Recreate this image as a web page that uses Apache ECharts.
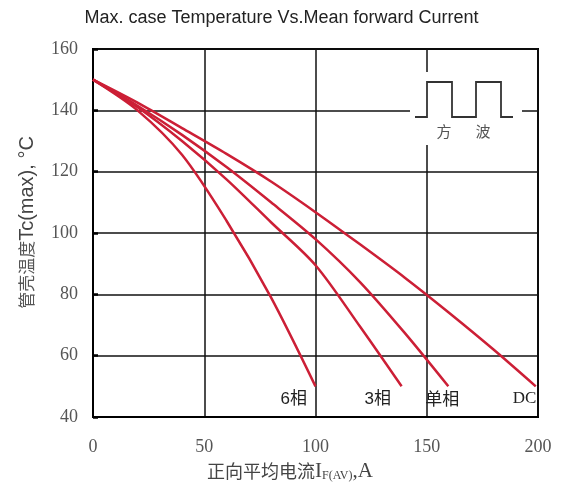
<!DOCTYPE html>
<html>
<head>
<meta charset="utf-8">
<script src="https://cdn.jsdelivr.net/npm/echarts@6/dist/echarts.min.js"></script>
<style>html,body{margin:0;padding:0;background:#fff}#c{width:563px;height:488px}</style>
</head>
<body>
<div id="c"></div>
<script>
var xTicks = [0, 50, 100, 150, 200];
var yTicks = [40, 60, 80, 100, 120, 140, 160];
var seriesNames = ['6相', '3相', '单相', 'DC'];
var curve6 = [[0,150],[20,140],[40,125.5],[60,104],[80,79],[100,50]];
var curve3 = [[0,150],[20,141],[40,130],[60,117.5],[80,103.5],[100,89.5],[120,69.5],[138.7,50]];
var curve1 = [[0,150],[20,141.5],[40,132],[60,121.5],[80,110],[100,98],[120,84],[140,67.5],[159.7,50]];
var curveDC = [[0,150],[20,142.5],[40,134.2],[60,125.8],[80,116.8],[100,106.8],[120,96.3],[140,85.5],[160,74],[180,62],[199,50]];

var chart = echarts.init(document.getElementById('c'));
var red = '#cc1f36';
var serif = '"Liberation Serif","DejaVu Serif",serif';
var sans = '"Liberation Sans",Arial,sans-serif';
var cjk = '"Noto Sans CJK SC",sans-serif';
function mk(name, data, off, fam) {
  return {
    name: name, type: 'line', data: data, smooth: 0.3, symbol: 'none',
    lineStyle: {color: red, width: 2.5}, z: 3,
    endLabel: {show: true, formatter: name, offset: off, color: '#222',
      fontSize: 17, fontFamily: fam}
  };
}
chart.setOption({
  animation: false,
  title: {text: 'Max. case Temperature Vs.Mean forward Current', left: 'center', top: 4,
    textStyle: {fontSize: 18, fontWeight: 'normal', color: '#222', fontFamily: sans}},
  grid: {left: 93, right: 25, top: 49, bottom: 71, outerBoundsMode: 'none', containLabel: false,
    show: true, borderColor: '#000', borderWidth: 2, backgroundColor: 'transparent'},
  xAxis: {type: 'value', min: 0, max: 200, interval: 50,
    axisLine: {show: true, lineStyle: {color: '#000', width: 2}},
    axisTick: {show: false},
    splitLine: {show: true, lineStyle: {color: '#111', width: 1.5}},
    axisLabel: {fontSize: 18, color: '#555', fontFamily: serif, margin: 21},
    name: '{a|正向平均电流}{i|I}{s|F(AV)}{i|,A}', nameLocation: 'middle', nameGap: 41,
    nameTextStyle: {padding: [0, 51, 0, 0], rich: {
      a: {fontSize: 18, color: '#444', fontFamily: cjk},
      i: {fontSize: 21, color: '#444', fontFamily: serif},
      s: {fontSize: 12, color: '#444', fontFamily: serif, padding: [8,0,0,0]}}}
  },
  yAxis: {type: 'value', min: 40, max: 160, interval: 20,
    axisLine: {show: true, lineStyle: {color: '#000', width: 2}},
    axisTick: {show: true, inside: true, length: 5, lineStyle: {color: '#000', width: 2.5}},
    splitLine: {show: true, lineStyle: {color: '#111', width: 1.5}},
    axisLabel: {fontSize: 18, color: '#555', fontFamily: serif, margin: 15},
    name: '{a|管壳温度}{b|Tc(max), °C}', nameLocation: 'middle', nameGap: 56, nameRotate: 90,
    nameTextStyle: {padding: [0, 0, 0, 21], rich: {
      a: {fontSize: 17, color: '#555', fontFamily: cjk},
      b: {fontSize: 20, color: '#444', fontFamily: sans}}}
  },
  series: [
    mk(seriesNames[0], curve6, [-43, 13], sans + ',' + cjk),
    mk(seriesNames[1], curve3, [-45, 13], sans + ',' + cjk),
    mk(seriesNames[2], curve1, [-31, 12], cjk),
    mk(seriesNames[3], curveDC, [-31, 12], serif)
  ],
  graphic: [
    {type: 'rect', shape: {x: 410, y: 72, width: 112, height: 73}, style: {fill: '#fff'}, z: 10},
    {type: 'polyline', shape: {points: [[415,117],[427,117],[427,82],[452,82],[452,117],[476,117],[476,82],[501,82],[501,117],[513,117]]},
      style: {stroke: '#333', lineWidth: 1.8, fill: null}, z: 11},
    {type: 'text', x: 444, y: 131, style: {text: '方', fontSize: 15, fill: '#555', align: 'center', verticalAlign: 'middle', fontFamily: cjk}, z: 11},
    {type: 'text', x: 483, y: 131, style: {text: '波', fontSize: 15, fill: '#555', align: 'center', verticalAlign: 'middle', fontFamily: cjk}, z: 11}
  ]
});
</script>
</body>
</html>
